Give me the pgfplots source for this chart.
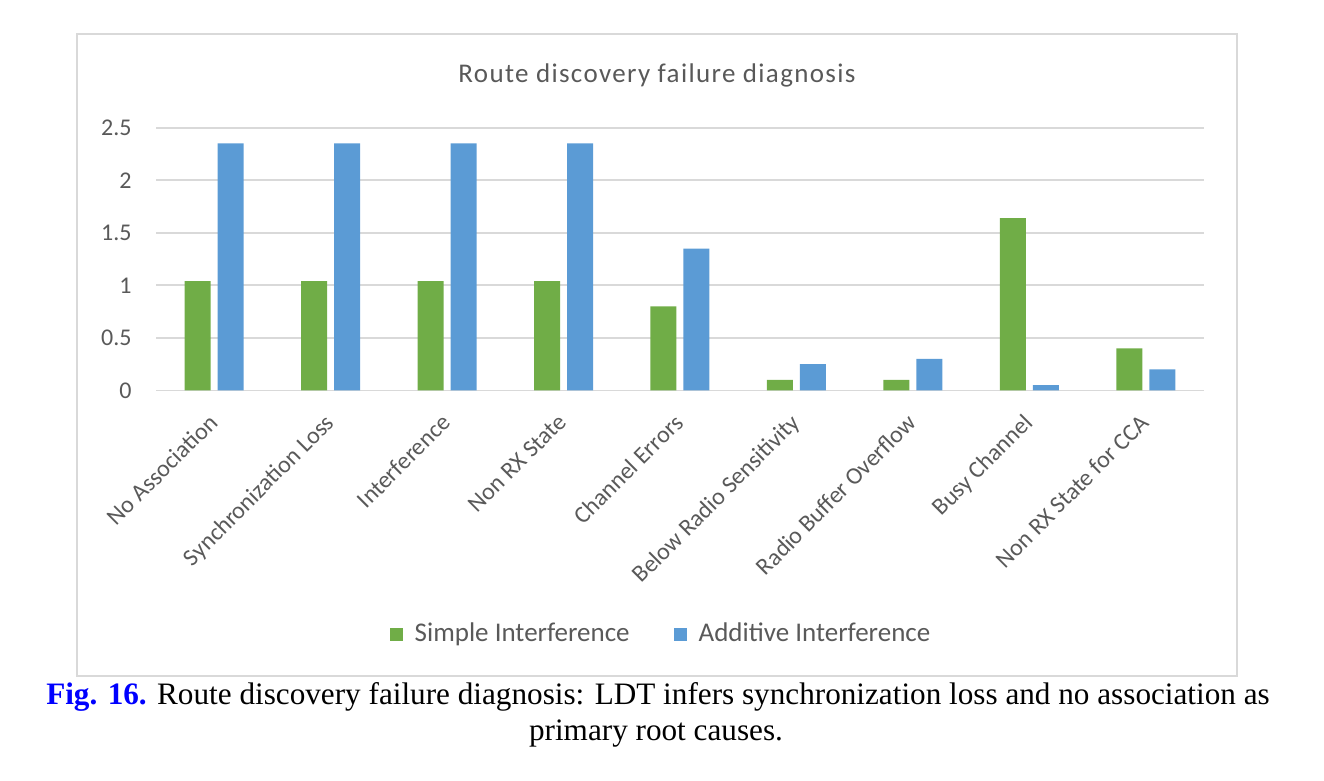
\documentclass[border=0pt]{standalone}
\usepackage{pgfplots}
\pgfplotsset{compat=1.18}
\usepackage{fontspec}
\setmainfont{Carlito}
\newfontfamily\capfont{Liberation Serif}
\newfontfamily\titlefont[LetterSpace=5]{Carlito}
\definecolor{cgreen}{HTML}{70AD47}
\definecolor{cblue}{HTML}{5B9BD5}
\definecolor{tgray}{HTML}{595959}
\definecolor{ggray}{HTML}{D9D9D9}
\definecolor{figblue}{HTML}{0000FF}
\begin{document}
\begin{tikzpicture}
\useasboundingbox (0,0) rectangle (662pt,390.5pt);
\draw[ggray, line width=1pt] (38.5pt,52.5pt) rectangle (618.5pt,373.5pt);
\node[anchor=base, text=tgray, font=\titlefont\fontsize{13.5}{16}\selectfont] at (328.5pt,349pt) {Route discovery failure diagnosis};
\begin{axis}[
 at={(78pt,195.25pt)}, anchor=south west, scale only axis, width=524pt, height=131.4pt,
 xmin=-0.5, xmax=8.5, ymin=0, ymax=2.5,
 ybar=3.5pt, bar width=13pt,
 axis line style={draw=none}, major tick length=0pt,
 ymajorgrids, grid style={draw=ggray, line width=0.9pt},
 ytick={0,0.5,1,1.5,2,2.5},
 xtick={0,...,8},
 xticklabels={No Association, Synchronization Loss, Interference, Non RX State, Channel Errors, Below Radio Sensitivity, Radio Buffer Overflow, Busy Channel, Non RX State for CCA},
 ticklabel style={font=\fontsize{12}{14}\selectfont, text=tgray},
 /pgf/number format/assume math mode=true,
 yticklabel style={anchor=east, inner sep=0pt, xshift=-12pt},
 xticklabel style={xshift=-3.5pt, yshift=-10.8pt, rotate=45, anchor=north east, inner sep=0pt},
 legend style={at={(rel axis cs:0.4828,-0.9266)}, anchor=center, draw=none, fill=none, legend columns=2, font=\fontsize{13.5}{16}\selectfont, text=tgray, /tikz/every even column/.append style={column sep=20pt}, /tikz/every odd column/.append style={column sep=4pt}},
 legend image code/.code={\fill (0pt,-3.25pt) rectangle (6.5pt,3.25pt);},
]
\addplot[fill=cgreen, draw=none] coordinates {(0,1.04) (1,1.04) (2,1.04) (3,1.04) (4,0.80) (5,0.10) (6,0.10) (7,1.64) (8,0.40)};
\addplot[fill=cblue, draw=none] coordinates {(0,2.35) (1,2.35) (2,2.35) (3,2.35) (4,1.35) (5,0.25) (6,0.30) (7,0.05) (8,0.20)};
\legend{Simple Interference, Additive Interference}
\end{axis}
\node[anchor=base, font=\capfont\fontsize{15.6}{18}\selectfont] at (329pt,38pt) {\textcolor{figblue}{\bfseries Fig. 16.} Route discovery failure diagnosis: LDT infers synchronization loss and no association as};
\node[anchor=base, font=\capfont\fontsize{15.6}{18}\selectfont] at (328pt,20pt) {primary root causes.};
\end{tikzpicture}
\end{document}
